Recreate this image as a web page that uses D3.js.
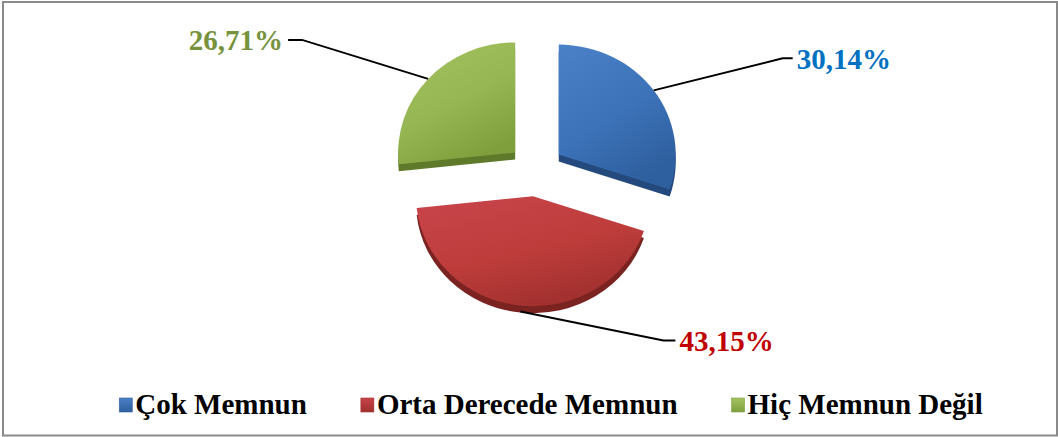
<!DOCTYPE html>
<html><head><meta charset="utf-8">
<script src="https://cdn.jsdelivr.net/npm/d3@7"></script>
<style>html,body{margin:0;padding:0;background:#fff;}svg{display:block;}
.serif{font-family:"Liberation Serif","Times New Roman",Tinos,"DejaVu Serif",serif;font-weight:bold;}
</style>
</head><body>
<script>
// ---- data ----
const categories = ["Çok Memnun", "Orta Derecede Memnun", "Hiç Memnun Değil"];
const values = [30.14, 43.15, 26.71];
const valueLabels = ["30,14%", "43,15%", "26,71%"];

// ---- styling / layout ----
const W = 1058, H = 437;
const topColors = ["#4a80c6", "#c8444a", "#a3c35f"];
const midColors = ["#3c72b8", "#be3d3b", "#95b652"];
const botColors = ["#2e5f9e", "#a0302e", "#7f9f3d"];
const sideColors = ["#24497c", "#7a2321", "#5f7a2b"];
const labelColors = ["#0070C0", "#C00000", "#76923C"];
const center = {x: 536, y: 170};
const rx = 117, ry = 110, explode = 28, depth = 7;
const k = ry / rx;
// leader-line elbow offsets relative to the slice anchor point
const elbowOffsets = [[129, -32], [143, 29], [-126, -39]];
const tailLen = [10, 12, -14];

const svg = d3.select("body").append("svg").attr("width", W).attr("height", H);
svg.append("rect").attr("x", 3).attr("y", 2).attr("width", W - 4).attr("height", H - 3.5)
  .attr("fill", "#fff").attr("stroke", "#8a8a8a").attr("stroke-width", 2);

const defs = svg.append("defs");
categories.forEach((c, i) => {
  const g = defs.append("linearGradient").attr("id", "g" + i)
    .attr("x1", "0.1").attr("y1", "0").attr("x2", "0.6").attr("y2", "1");
  g.append("stop").attr("offset", "0%").attr("stop-color", topColors[i]);
  g.append("stop").attr("offset", "55%").attr("stop-color", midColors[i]);
  g.append("stop").attr("offset", "100%").attr("stop-color", botColors[i]);
  const lg = defs.append("linearGradient").attr("id", "lg" + i)
    .attr("x1", "0").attr("y1", "0").attr("x2", "0").attr("y2", "1");
  lg.append("stop").attr("offset", "0%").attr("stop-color", topColors[i]);
  lg.append("stop").attr("offset", "100%").attr("stop-color", botColors[i]);
});

const pie = d3.pie().sort(null).value(d => d)(values);
const arc = d3.arc().innerRadius(0).outerRadius(rx);

const slices = svg.append("g");
pie.forEach((p, i) => {
  const mid = (p.startAngle + p.endAngle) / 2;
  const ox = center.x + explode * Math.sin(mid);
  const oy = center.y - explode * Math.cos(mid) * k;
  slices.append("path").attr("d", arc(p))
    .attr("transform", `translate(${ox},${oy + depth}) scale(1,${k})`)
    .attr("fill", sideColors[i]);
  slices.append("path").attr("d", arc(p))
    .attr("transform", `translate(${ox},${oy}) scale(1,${k})`)
    .attr("fill", `url(#g${i})`);

  const ax = ox + rx * Math.sin(mid);
  const ay = oy - ry * Math.cos(mid) + (Math.cos(mid) < 0 ? depth - 1 : 0);
  const ex = ax + elbowOffsets[i][0], ey = ay + elbowOffsets[i][1];
  const tx = ex + tailLen[i];
  svg.append("polyline").attr("points", `${ax},${ay} ${ex},${ey} ${tx},${ey}`)
    .attr("fill", "none").attr("stroke", "#000").attr("stroke-width", 2);
  svg.append("text").attr("class", "serif")
    .attr("x", tx + (tailLen[i] > 0 ? 4 : -5)).attr("y", ey + 1)
    .attr("dy", "0.33em")
    .attr("text-anchor", tailLen[i] > 0 ? "start" : "end")
    .attr("font-size", 29)
    .attr("fill", labelColors[i]).text(valueLabels[i]);
});

// legend
const legend = svg.append("g").attr("class", "serif").attr("font-size", 29);
const items = categories.map((c, i) => {
  const g = legend.append("g");
  g.append("rect").attr("x", 0).attr("y", -16).attr("width", 13).attr("height", 14)
    .attr("fill", `url(#lg${i})`).attr("stroke", botColors[i]).attr("stroke-width", 0.6);
  const t = g.append("text").attr("x", 16).attr("y", 0).attr("fill", "#000").text(c);
  return {g, w: 16 + t.node().getComputedTextLength()};
});
const gap = 54;
const total = d3.sum(items, d => d.w) + gap * (items.length - 1);
let x = 551 - total / 2;
items.forEach(it => { it.g.attr("transform", `translate(${x},414)`); x += it.w + gap; });
</script>
</body></html>
